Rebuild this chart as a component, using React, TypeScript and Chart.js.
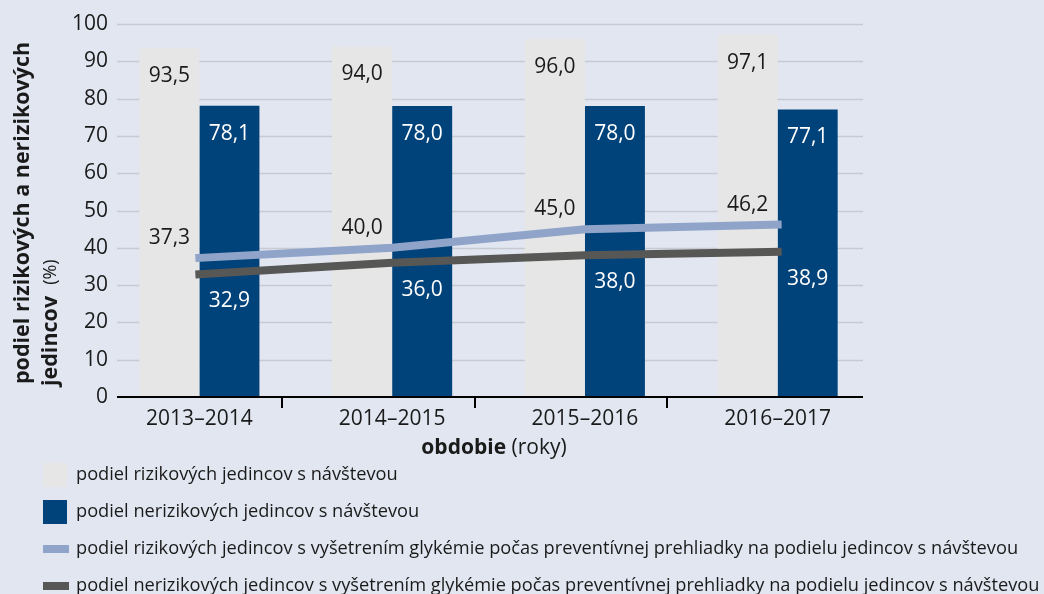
import React, { useEffect, useRef } from 'react';
import { Chart, registerables } from 'chart.js';

Chart.register(...registerables);

// ---------- data ----------
const categories = ['2013–2014', '2014–2015', '2015–2016', '2016–2017'];
const riskVisit = [93.5, 94.0, 96.0, 97.1];
const nonRiskVisit = [78.1, 78.0, 78.0, 77.1];
const riskGlyc = [37.3, 40.0, 45.0, 46.2];
const nonRiskGlyc = [32.9, 36.0, 38.0, 38.9];
const yMin = 0;
const yMax = 100;
const yStep = 10;
const seriesNames = [
  'podiel rizikových jedincov s návštevou',
  'podiel nerizikových jedincov s návštevou',
  'podiel rizikových jedincov s vyšetrením glykémie počas preventívnej prehliadky na podielu jedincov s návštevou',
  'podiel nerizikových jedincov s vyšetrením glykémie počas preventívnej prehliadky na podielu jedincov s návštevou',
];
const yTitleLine1 = 'podiel rizikových a nerizikových';
const yTitleLine2Bold = 'jedincov';
const yTitleLine2Unit = '(%)';
const xTitleBold = 'obdobie';
const xTitleUnit = ' (roky)';

// ---------- styles ----------
const FONT = '"Open Sans", "Noto Sans", sans-serif';
const BG = '#E1E6F1';
const LIGHT_BAR = '#E6E6E6';
const DARK_BAR = '#00427A';
const LIGHT_LINE = '#8FA4C8';
const DARK_LINE = '#575756';
const GRID = '#C8CAD1';
const TEXT = '#1A1A1A';
const TICK_SHIFT = -14;

const fmt = (v: number) => v.toFixed(1).replace('.', ',');

const bgPlugin = {
  id: 'bgFill',
  beforeDraw(chart: any) {
    const { ctx, width, height } = chart;
    ctx.save();
    ctx.fillStyle = BG;
    ctx.fillRect(0, 0, width, height);
    ctx.restore();
  },
};

const gridPlugin = {
  id: 'customGrid',
  beforeDatasetsDraw(chart: any) {
    const { ctx, chartArea, scales } = chart;
    const y = scales.y;
    const x0 = chartArea.left + 14;
    const x1 = chartArea.right - 11;
    ctx.save();
    ctx.strokeStyle = GRID;
    ctx.lineWidth = 1.3;
    ctx.fillStyle = TEXT;
    ctx.font = `21px ${FONT}`;
    ctx.textAlign = 'right';
    ctx.textBaseline = 'middle';
    y.ticks.forEach((t: any) => {
      const py = Math.round(y.getPixelForValue(t.value)) + 0.5;
      ctx.fillText(String(t.value), chartArea.left + 5, py);
      if (t.value === yMin) return;
      ctx.beginPath();
      ctx.moveTo(x0, py);
      ctx.lineTo(x1, py);
      ctx.stroke();
    });
    ctx.restore();
  },
  afterDatasetsDraw(chart: any) {
    const { ctx, chartArea, scales } = chart;
    const y = scales.y;
    const x = scales.x;
    const x0 = chartArea.left + 14;
    const x1 = chartArea.right - 11;
    const py0 = y.getPixelForValue(yMin);
    ctx.save();
    ctx.strokeStyle = '#000';
    ctx.lineWidth = 2;
    ctx.beginPath();
    ctx.moveTo(x0, py0);
    ctx.lineTo(x1, py0);
    ctx.stroke();
    for (let i = 1; i < categories.length; i++) {
      const bx = Math.round((x.getPixelForValue(i - 1) + x.getPixelForValue(i)) / 2) + TICK_SHIFT;
      ctx.beginPath();
      ctx.moveTo(bx, py0);
      ctx.lineTo(bx, py0 + 11);
      ctx.stroke();
    }
    ctx.restore();
  },
};

const labelPlugin = {
  id: 'valueLabels',
  afterDatasetsDraw(chart: any) {
    const { ctx, scales } = chart;
    const y = scales.y;
    const mLight = chart.getDatasetMeta(0);
    const mDark = chart.getDatasetMeta(1);
    ctx.save();
    ctx.font = `21px ${FONT}`;
    ctx.textAlign = 'center';
    ctx.textBaseline = 'middle';
    for (let i = 0; i < categories.length; i++) {
      const lb = mLight.data[i];
      const db = mDark.data[i];
      ctx.fillStyle = TEXT;
      ctx.fillText(fmt(riskVisit[i]), lb.x, lb.y + 28);
      ctx.fillText(fmt(riskGlyc[i]), lb.x, y.getPixelForValue(riskGlyc[i]) - 20);
      ctx.fillStyle = '#FFFFFF';
      ctx.fillText(fmt(nonRiskVisit[i]), db.x, db.y + 28);
      ctx.fillText(fmt(nonRiskGlyc[i]), db.x, y.getPixelForValue(nonRiskGlyc[i]) + 27);
    }
    ctx.restore();
  },
};

const titlesPlugin = {
  id: 'titlesLegend',
  afterDraw(chart: any) {
    const { ctx } = chart;
    ctx.save();
    ctx.fillStyle = TEXT;
    ctx.textBaseline = 'middle';
    ctx.textAlign = 'left';

    // x title
    const boldF = `bold 21px ${FONT}`;
    const regF = `21px ${FONT}`;
    ctx.font = boldF;
    const wB = ctx.measureText(xTitleBold).width;
    ctx.font = regF;
    const wR = ctx.measureText(xTitleUnit).width;
    const xc = 494;
    const sx = xc - (wB + wR) / 2;
    ctx.font = boldF;
    ctx.fillText(xTitleBold, sx, 448);
    ctx.font = regF;
    ctx.fillText(xTitleUnit, sx + wB, 448);

    // y title (rotated)
    ctx.save();
    ctx.translate(23, 384);
    ctx.rotate(-Math.PI / 2);
    ctx.font = `bold 21.5px ${FONT}`;
    ctx.fillText(yTitleLine1, 0, 0);
    ctx.restore();
    ctx.save();
    ctx.translate(51, 386);
    ctx.rotate(-Math.PI / 2);
    ctx.font = `bold 21.5px ${FONT}`;
    const wj = ctx.measureText(yTitleLine2Bold).width;
    ctx.fillText(yTitleLine2Bold, 0, 0);
    ctx.font = `18px ${FONT}`;
    ctx.fillText(yTitleLine2Unit, wj + 11, 0);
    ctx.restore();

    // legend
    const rows = [475, 512, 549, 586];
    const lx = 43;
    const tx = 76;
    ctx.font = `100px ${FONT}`;
    const longest = Math.max(...seriesNames.map((s) => ctx.measureText(s).width));
    const fs = (100 * 964) / longest;
    ctx.font = `${fs}px ${FONT}`;
    seriesNames.forEach((name, i) => {
      const cy = rows[i];
      if (i === 0 || i === 1) {
        ctx.fillStyle = i === 0 ? LIGHT_BAR : DARK_BAR;
        ctx.fillRect(lx, cy - 12, 24, 24);
      } else {
        ctx.fillStyle = i === 2 ? LIGHT_LINE : DARK_LINE;
        ctx.fillRect(lx, cy - 4, 26, 8);
      }
      ctx.fillStyle = TEXT;
      ctx.fillText(name, tx, cy);
    });
    ctx.restore();
  },
};

export default function App() {
  const ref = useRef<HTMLCanvasElement | null>(null);

  useEffect(() => {
    document.body.style.margin = '0';
    document.body.style.background = BG;
    const canvas = ref.current;
    if (!canvas) return;
    const chart = new Chart(canvas, {
      type: 'bar',
      data: {
        labels: categories,
        datasets: [
          {
            type: 'bar',
            label: seriesNames[0],
            data: riskVisit,
            backgroundColor: LIGHT_BAR,
            borderWidth: 0,
            order: 2,
          },
          {
            type: 'bar',
            label: seriesNames[1],
            data: nonRiskVisit,
            backgroundColor: DARK_BAR,
            borderWidth: 0,
            order: 3,
          },
          {
            type: 'line',
            label: seriesNames[2],
            data: riskGlyc,
            borderColor: LIGHT_LINE,
            backgroundColor: LIGHT_LINE,
            borderWidth: 8,
            borderCapStyle: 'square',
            pointRadius: 0,
            tension: 0,
            fill: false,
            order: 1,
          },
          {
            type: 'line',
            label: seriesNames[3],
            data: nonRiskGlyc,
            borderColor: DARK_LINE,
            backgroundColor: DARK_LINE,
            borderWidth: 8,
            borderCapStyle: 'square',
            pointRadius: 0,
            tension: 0,
            fill: false,
            order: 0,
          },
        ] as any,
      },
      options: {
        responsive: false,
        animation: false,
        devicePixelRatio: 1,
        layout: { padding: { left: 0, right: 170, top: 24, bottom: 0 } },
        datasets: {
          bar: { categoryPercentage: 0.623, barPercentage: 1 },
        },
        plugins: {
          legend: { display: false },
          tooltip: { enabled: false },
          title: { display: false },
        },
        scales: {
          x: {
            grid: { display: false, drawTicks: false },
            border: { display: false },
            ticks: {
              color: TEXT,
              font: { family: FONT, size: 21 },
              padding: 9,
              maxRotation: 0,
              autoSkip: false,
            },
            afterFit(scale: any) {
              scale.height = 197;
            },
          },
          y: {
            min: yMin,
            max: yMax,
            grid: { display: false, drawTicks: false },
            border: { display: false },
            ticks: {
              display: false,
              stepSize: yStep,
            },
            afterFit(scale: any) {
              scale.width = 103;
            },
          },
        },
      } as any,
      plugins: [bgPlugin, gridPlugin, labelPlugin, titlesPlugin],
    });
    return () => chart.destroy();
  }, []);

  return (
    <div style={{ width: 1044, height: 594, background: BG }}>
      <canvas ref={ref} width={1044} height={594} style={{ display: 'block' }} />
    </div>
  );
}
